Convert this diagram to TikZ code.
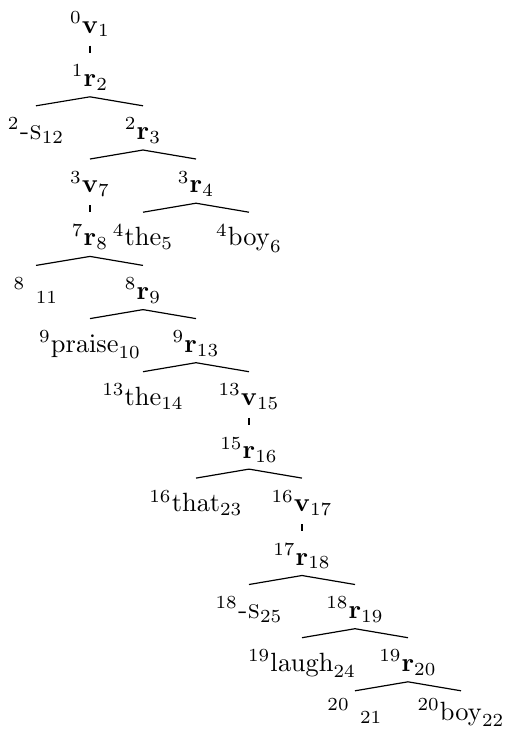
\documentclass[tikz,border=0pt]{standalone}
\usetikzlibrary{calc}
\begin{document}
\begin{tikzpicture}[x=0.3788pt,y=-0.3788pt,
  lbl/.style={anchor=base,inner sep=0pt,outer sep=0pt},
  edge/.style={line width=0.45pt}]
\useasboundingbox (0,0) rectangle (507,732);
% parent-to-child branch: starts below the parent, ends a fixed drop lower at the child's column
\newcommand{\branchto}[2]{\draw[edge] ($(#1.base)+(0,10.5)$) -- ($(#2.base |- #1.base)+(0,19.5)$);}
% unary link: short vertical tick
\newcommand{\tickto}[2]{\draw[edge] ($(#1.base)+(0,12.5)$) -- ($(#2.base |- #1.base)+(0,19.5)$);}

\node[lbl] (v1)   at (90,33)    {${}^{0}\mathbf{v}_{1}$};
\node[lbl] (r2)   at (90,86.3)  {${}^{1}\mathbf{r}_{2}$};
\node[lbl] (s12)  at (36,139.5) {${}^{2}\mbox{\textsc{-s}}_{12}$};
\node[lbl] (r3)   at (143,139.5){${}^{2}\mathbf{r}_{3}$};
\node[lbl] (v7)   at (90,192.7) {${}^{3}\mathbf{v}_{7}$};
\node[lbl] (r4)   at (196,192.7){${}^{3}\mathbf{r}_{4}$};
\node[lbl] (r8)   at (90,245.9) {${}^{7}\mathbf{r}_{8}$};
\node[lbl] (the5) at (143,245.9){${}^{4}\mathrm{the}_{5}$};
\node[lbl] (boy6) at (249,245.9){${}^{4}\mathrm{boy}_{6}$};
\node[lbl] (e11)  at (36,299.1) {${}^{8}\hspace{3.9pt}{}_{11}$};
\node[lbl] (r9)   at (143,299.1){${}^{8}\mathbf{r}_{9}$};
\node[lbl] (praise) at (90,352.2){${}^{9}\mathrm{praise}_{10}$};
\node[lbl] (r13)  at (196,352.2){${}^{9}\mathbf{r}_{13}$};
\node[lbl] (the14) at (143,405.4){${}^{13}\mathrm{the}_{14}$};
\node[lbl] (v15)  at (249,405.4){${}^{13}\mathbf{v}_{15}$};
\node[lbl] (r16)  at (249,458.6){${}^{15}\mathbf{r}_{16}$};
\node[lbl] (that) at (196,511.8){${}^{16}\mathrm{that}_{23}$};
\node[lbl] (v17)  at (302,511.8){${}^{16}\mathbf{v}_{17}$};
\node[lbl] (r18)  at (302,565)  {${}^{17}\mathbf{r}_{18}$};
\node[lbl] (s25)  at (249,618.2){${}^{18}\mbox{\textsc{-s}}_{25}$};
\node[lbl] (r19)  at (355,618.2){${}^{18}\mathbf{r}_{19}$};
\node[lbl] (laugh) at (302,671.3){${}^{19}\mathrm{laugh}_{24}$};
\node[lbl] (r20)  at (408,671.3){${}^{19}\mathbf{r}_{20}$};
\node[lbl] (e21)  at (355,720)  {${}^{20}\hspace{3.9pt}{}_{21}$};
\node[lbl] (boy22) at (461,720) {${}^{20}\mathrm{boy}_{22}$};

\tickto{v1}{r2}
\branchto{r2}{s12}  \branchto{r2}{r3}
\branchto{r3}{v7}   \branchto{r3}{r4}
\tickto{v7}{r8}
\branchto{r4}{the5} \branchto{r4}{boy6}
\branchto{r8}{e11}  \branchto{r8}{r9}
\branchto{r9}{praise} \branchto{r9}{r13}
\branchto{r13}{the14} \branchto{r13}{v15}
\tickto{v15}{r16}
\branchto{r16}{that} \branchto{r16}{v17}
\tickto{v17}{r18}
\branchto{r18}{s25} \branchto{r18}{r19}
\branchto{r19}{laugh} \branchto{r19}{r20}
\branchto{r20}{e21} \branchto{r20}{boy22}
\end{tikzpicture}
\end{document}
